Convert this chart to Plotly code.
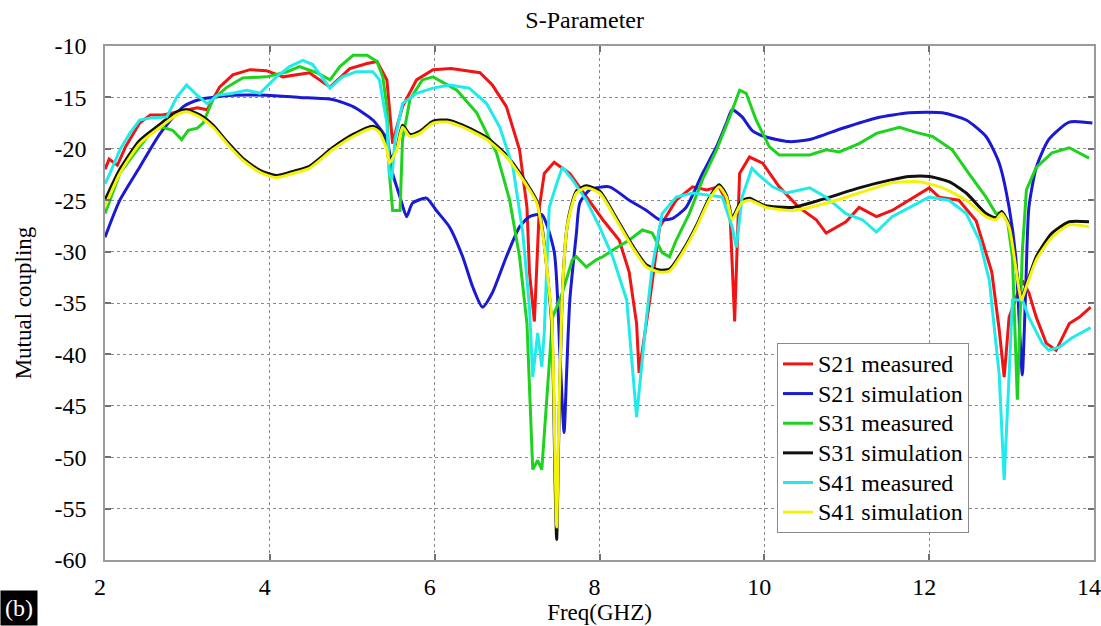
import plotly.graph_objects as go

# ---------------- data ----------------
s21_meas_f = [2.00, 2.05, 2.15, 2.25, 2.42, 2.55, 2.70, 2.87, 2.99, 3.12, 3.24, 3.39, 3.55, 3.76, 3.96,
              4.16, 4.48, 4.73, 4.97, 5.18, 5.30, 5.42, 5.49, 5.52, 5.61, 5.78, 5.98, 6.20, 6.55, 6.70,
              6.87, 7.03, 7.12, 7.15, 7.21, 7.27, 7.33, 7.45, 7.64, 7.84, 8.04, 8.24, 8.36, 8.45, 8.48,
              8.61, 8.73, 8.93, 9.13, 9.30, 9.45, 9.58, 9.64, 9.70, 9.82, 9.98, 10.18, 10.42, 10.63, 10.75,
              10.99, 11.15, 11.36, 11.55, 11.76, 12.00, 12.12, 12.36, 12.57, 12.76, 12.85, 12.91, 12.97,
              13.13, 13.21, 13.30, 13.42, 13.54, 13.70, 13.82, 13.96]
s21_meas_db = [-22.0, -21.0, -21.6, -19.8, -17.5, -16.7, -16.7, -16.4, -16.2, -16.0, -16.2, -14.0, -12.8, -12.3, -12.4,
               -13.0, -12.6, -14.0, -12.2, -11.7, -11.5, -13.3, -19.5, -18.5, -15.9, -13.3, -12.3, -12.2, -12.6, -13.8,
               -15.9, -20.1, -25.7, -32.0, -36.8, -25.7, -22.4, -21.3, -22.4, -24.7, -26.9, -28.9, -32.0, -37.0, -41.8,
               -34.7, -27.6, -25.0, -23.7, -24.0, -23.7, -25.7, -36.8, -22.4, -20.8, -21.4, -23.7, -25.7, -26.9, -28.2,
               -27.1, -25.7, -26.6, -26.0, -25.0, -23.8, -24.7, -25.0, -27.0, -32.0, -37.6, -42.2, -36.4,
               -32.8, -34.0, -36.4, -38.9, -39.6, -37.0, -36.4, -35.4]

s21_sim_f = [2.00, 2.18, 2.42, 2.67, 2.95, 3.15, 3.55, 3.96, 4.36, 4.76, 5.01, 5.25, 5.42, 5.49, 5.58, 5.66,
             5.73, 5.90, 6.02, 6.18, 6.34, 6.46, 6.58, 6.70, 6.87, 7.03, 7.15, 7.30, 7.45, 7.52, 7.57, 7.60,
             7.64, 7.72, 7.76, 7.88, 8.12, 8.36, 8.57, 8.73, 8.88, 9.05, 9.25, 9.42, 9.54, 9.61, 9.73, 9.85,
             10.00, 10.30, 10.55, 10.95, 11.36, 11.76, 12.16, 12.45, 12.69, 12.85, 12.97, 13.05, 13.10, 13.13,
             13.17, 13.21, 13.30, 13.45, 13.70, 13.98]
s21_sim_db = [-28.6, -25.0, -21.8, -18.5, -15.9, -15.2, -14.8, -14.8, -15.0, -15.2, -15.9, -17.2, -19.1, -22.4, -24.7, -26.6,
              -25.3, -24.8, -26.0, -27.6, -30.5, -33.4, -35.4, -34.0, -30.5, -27.6, -26.6, -26.4, -30.0, -40.0, -47.6, -42.0,
              -34.7, -28.2, -25.3, -24.0, -23.7, -25.0, -26.0, -26.9, -26.8, -25.7, -22.4, -19.8, -17.5, -16.2, -16.9, -18.2,
              -18.8, -19.3, -19.1, -18.0, -17.0, -16.5, -16.5, -17.2, -18.8, -21.4, -25.7, -30.5, -38.0, -42.0,
              -34.0, -25.7, -21.8, -19.1, -17.4, -17.5]

s31_meas_f = [2.00, 2.18, 2.39, 2.58, 2.70, 2.82, 2.93, 3.01, 3.12, 3.19, 3.31, 3.48, 3.67, 3.96, 4.21, 4.36,
              4.57, 4.73, 4.85, 5.01, 5.18, 5.30, 5.37, 5.42, 5.45, 5.49, 5.58, 5.61, 5.70, 5.85, 5.98, 6.27,
              6.51, 6.75, 6.91, 7.03, 7.12, 7.19, 7.25, 7.30, 7.36, 7.43, 7.55, 7.67, 7.72, 7.84, 7.96, 8.04,
              8.21, 8.36, 8.52, 8.64, 8.76, 8.85, 8.93, 9.09, 9.25, 9.42, 9.58, 9.70, 9.78, 9.90, 10.00, 10.06,
              10.18, 10.55, 10.75, 10.91, 11.15, 11.36, 11.64, 11.84, 12.04, 12.28, 12.48, 12.69, 12.81, 12.88,
              12.95, 13.01, 13.07, 13.13, 13.18, 13.30, 13.49, 13.70, 13.94]
s31_meas_db = [-26.3, -22.4, -20.1, -18.2, -17.9, -18.2, -19.1, -18.2, -18.0, -17.5, -15.2, -14.0, -13.1, -13.0, -12.5, -12.0,
               -12.6, -13.3, -12.0, -10.9, -10.9, -11.5, -13.0, -15.9, -22.4, -26.0, -26.0, -19.1, -15.2, -13.3, -13.0, -14.3,
               -16.5, -20.4, -25.0, -30.5, -37.0, -51.2, -50.3, -51.2, -44.4, -36.4, -34.0, -30.8, -30.5, -31.5, -30.8, -30.5,
               -29.6, -28.9, -27.9, -28.2, -30.1, -30.5, -28.9, -26.3, -23.0, -20.1, -16.9, -14.3, -14.6, -17.2, -18.8, -19.8,
               -20.6, -20.6, -20.1, -20.3, -19.5, -18.5, -17.9, -18.4, -18.8, -20.1, -22.4, -24.7, -26.3, -26.2,
               -27.0, -30.5, -44.4, -30.0, -24.0, -21.8, -20.4, -19.9, -20.9]

s31_sim_f = [2.00, 2.18, 2.42, 2.67, 2.87, 2.99, 3.15, 3.31, 3.48, 3.67, 3.88, 4.08, 4.28, 4.48, 4.76, 5.01,
             5.25, 5.33, 5.42, 5.45, 5.54, 5.61, 5.70, 5.82, 5.98, 6.15, 6.34, 6.63, 6.87, 7.07, 7.24, 7.31,
             7.42, 7.46, 7.48, 7.51, 7.55, 7.60, 7.64, 7.72, 7.84, 8.00, 8.21, 8.40, 8.57, 8.73, 8.85, 9.01,
             9.18, 9.33, 9.45, 9.54, 9.61, 9.72, 9.82, 10.00, 10.34, 10.75, 11.15, 11.55, 11.76, 12.00, 12.24,
             12.45, 12.69, 12.81, 12.88, 12.97, 13.05, 13.12, 13.18, 13.30, 13.49, 13.70, 13.94]
s31_sim_db = [-25.0, -22.0, -19.2, -17.6, -16.4, -16.2, -16.7, -17.7, -19.3, -20.9, -22.1, -22.6, -22.2, -21.7, -19.9, -18.6,
              -17.8, -18.2, -19.9, -21.2, -19.9, -17.7, -18.6, -18.3, -17.3, -17.2, -17.7, -18.9, -20.6, -22.8, -25.1, -28.0,
              -37.0, -52.0, -58.0, -46.0, -34.0, -28.0, -26.1, -24.1, -23.6, -24.1, -26.8, -29.4, -31.3, -31.8, -31.7, -29.9,
              -27.4, -24.8, -23.5, -24.5, -26.7, -25.1, -24.8, -25.5, -25.7, -24.8, -23.8, -23.0, -22.7, -22.7, -23.2,
              -24.3, -26.3, -26.7, -26.1, -27.4, -31.3, -34.5, -33.2, -30.5, -28.2, -27.1, -27.1]

s41_meas_f = [2.00, 2.06, 2.18, 2.30, 2.42, 2.55, 2.75, 2.87, 2.99, 3.12, 3.24, 3.36, 3.55, 3.72, 3.88, 4.08,
              4.24, 4.40, 4.52, 4.73, 4.88, 5.05, 5.25, 5.33, 5.42, 5.45, 5.48, 5.52, 5.61, 5.78, 5.98, 6.18,
              6.42, 6.63, 6.79, 6.95, 7.07, 7.15, 7.19, 7.25, 7.30, 7.33, 7.36, 7.39, 7.48, 7.55, 7.67, 7.84,
              8.00, 8.16, 8.33, 8.45, 8.57, 8.64, 8.76, 8.93, 9.13, 9.33, 9.49, 9.61, 9.66, 9.73, 9.85, 9.94,
              10.10, 10.27, 10.55, 10.75, 10.99, 11.19, 11.36, 11.55, 11.76, 12.00, 12.24, 12.45, 12.61, 12.73,
              12.85, 12.91, 12.97, 13.01, 13.13, 13.21, 13.37, 13.45, 13.58, 13.73, 13.96]
s41_meas_db = [-23.4, -22.4, -20.1, -18.5, -17.2, -17.0, -16.9, -15.0, -13.8, -14.8, -15.6, -14.8, -14.6, -14.3, -14.6, -13.0,
               -12.0, -11.4, -11.8, -14.1, -13.0, -12.5, -12.5, -13.3, -17.5, -22.4, -23.0, -19.0, -15.6, -14.6, -14.1, -13.8,
               -14.1, -15.6, -17.9, -21.8, -28.2, -35.4, -42.2, -37.9, -41.2, -37.9, -31.5, -25.7, -23.4, -21.8, -23.0, -25.0,
               -27.6, -30.5, -34.7, -46.1, -36.4, -31.5, -26.3, -24.7, -24.3, -24.5, -24.7, -27.6, -29.6, -24.7, -21.9, -22.6,
               -23.7, -24.3, -23.8, -24.7, -26.3, -26.9, -28.1, -26.6, -25.7, -24.7, -25.0, -26.3, -28.9, -32.8,
               -42.0, -52.2, -42.0, -34.7, -34.7, -36.4, -38.9, -39.6, -39.3, -38.4, -37.4]

s41_sim_f = [2.00, 2.18, 2.42, 2.67, 2.87, 2.99, 3.15, 3.31, 3.48, 3.67, 3.88, 4.08, 4.28, 4.48, 4.76, 5.01,
             5.25, 5.33, 5.42, 5.45, 5.54, 5.61, 5.70, 5.82, 5.98, 6.15, 6.34, 6.63, 6.87, 7.07, 7.24, 7.31,
             7.42, 7.46, 7.48, 7.51, 7.55, 7.60, 7.64, 7.72, 7.84, 8.00, 8.21, 8.40, 8.57, 8.73, 8.85, 9.01,
             9.18, 9.33, 9.45, 9.54, 9.61, 9.72, 9.82, 10.02, 10.34, 10.75, 11.15, 11.55, 11.88, 12.16,
             12.45, 12.69, 12.81, 12.88, 12.97, 13.05, 13.12, 13.18, 13.30, 13.49, 13.70, 13.94]
s41_sim_db = [-25.6, -22.4, -19.5, -17.9, -16.7, -16.4, -16.9, -17.9, -19.5, -21.1, -22.3, -22.8, -22.4, -21.9, -20.1, -18.8,
              -18.0, -18.4, -20.1, -21.4, -20.1, -17.9, -18.8, -18.5, -17.5, -17.4, -17.9, -19.1, -20.8, -23.0, -25.3, -28.2,
              -36.5, -50.0, -56.8, -45.0, -34.0, -28.0, -26.3, -24.3, -23.8, -24.3, -27.0, -29.6, -31.5, -32.0, -31.9, -30.1,
              -27.6, -25.0, -23.7, -24.7, -26.9, -25.3, -25.0, -25.7, -26.0, -25.3, -24.3, -23.3, -23.2, -23.8,
              -25.0, -26.6, -26.9, -26.3, -27.6, -31.5, -34.7, -33.4, -30.8, -28.6, -27.4, -27.6]

series_names = ["S21 measured", "S21 simulation", "S31 measured", "S31 simulation", "S41 measured", "S41 simulation"]
series_colors = ["#f01414", "#1a1ad2", "#1ed21e", "#111111", "#22eaea", "#f2f20a"]
x_ticks = [2, 4, 6, 8, 10, 12, 14]
y_ticks = [-10, -15, -20, -25, -30, -35, -40, -45, -50, -55, -60]

xs = [s21_meas_f, s21_sim_f, s31_meas_f, s31_sim_f, s41_meas_f, s41_sim_f]
ys = [s21_meas_db, s21_sim_db, s31_meas_db, s31_sim_db, s41_meas_db, s41_sim_db]

SERIF = "Liberation Serif"

fig = go.Figure()
for name, col, xv, yv in zip(series_names, series_colors, xs, ys):
    shape = "spline" if "simulation" in name else "linear"
    fig.add_trace(go.Scatter(x=xv, y=yv, mode="lines",
                             name='<span style="font-size:24px">' + name + '</span>',
                             line=dict(color=col, width=3, shape=shape, smoothing=0.6)))

axis_common = dict(
    showline=True, linecolor="#9a9a9a", linewidth=1.5, mirror="ticks",
    showgrid=True, gridcolor="#8a8a8a", griddash="dot", gridwidth=1,
    ticks="inside", ticklen=6, tickcolor="#707070", tickwidth=1.5,
    zeroline=False, tickfont=dict(family=SERIF, size=24, color="black"),
    ticklabeloverflow="allow", automargin=False,
)

fig.update_xaxes(range=[2, 14], tickvals=x_ticks, ticktext=[str(v) for v in x_ticks],
                 ticklabelstandoff=4, ticklabelshift=-5,
                 title=dict(text="Freq(GHZ)", font=dict(family=SERIF, size=23, color="black"), standoff=4),
                 **axis_common)
fig.update_yaxes(range=[-60, -10], tickvals=y_ticks, ticktext=[str(v) for v in y_ticks],
                 ticklabelstandoff=12,
                 title=dict(text="Mutual coupling", font=dict(family=SERIF, size=23, color="black"), standoff=16),
                 **axis_common)

fig.update_layout(
    width=1101, height=626,
    margin=dict(l=105, r=7, t=46, b=66, autoexpand=False),
    paper_bgcolor="white", plot_bgcolor="white",
    title=dict(text="S-Parameter", x=0.485, xref="paper", xanchor="center",
               y=1 - 20 / 626, yref="container", yanchor="middle",
               font=dict(family=SERIF, size=24, color="black")),
    legend=dict(x=0.6795, y=0.422, xanchor="left", yanchor="top",
                bgcolor="white", bordercolor="#8a8a8a", borderwidth=1,
                font=dict(family=SERIF, size=20.5, color="black"),
                itemwidth=30, tracegroupgap=0, traceorder="normal"),
    showlegend=True,
    annotations=[dict(text="(b)", xref="paper", yref="paper", x=-0.106, y=-0.093,
                      xanchor="left", yanchor="middle", showarrow=False,
                      font=dict(family=SERIF, size=24, color="white"),
                      bgcolor="black", borderpad=4)],
)

fig.write_html("out.html")
